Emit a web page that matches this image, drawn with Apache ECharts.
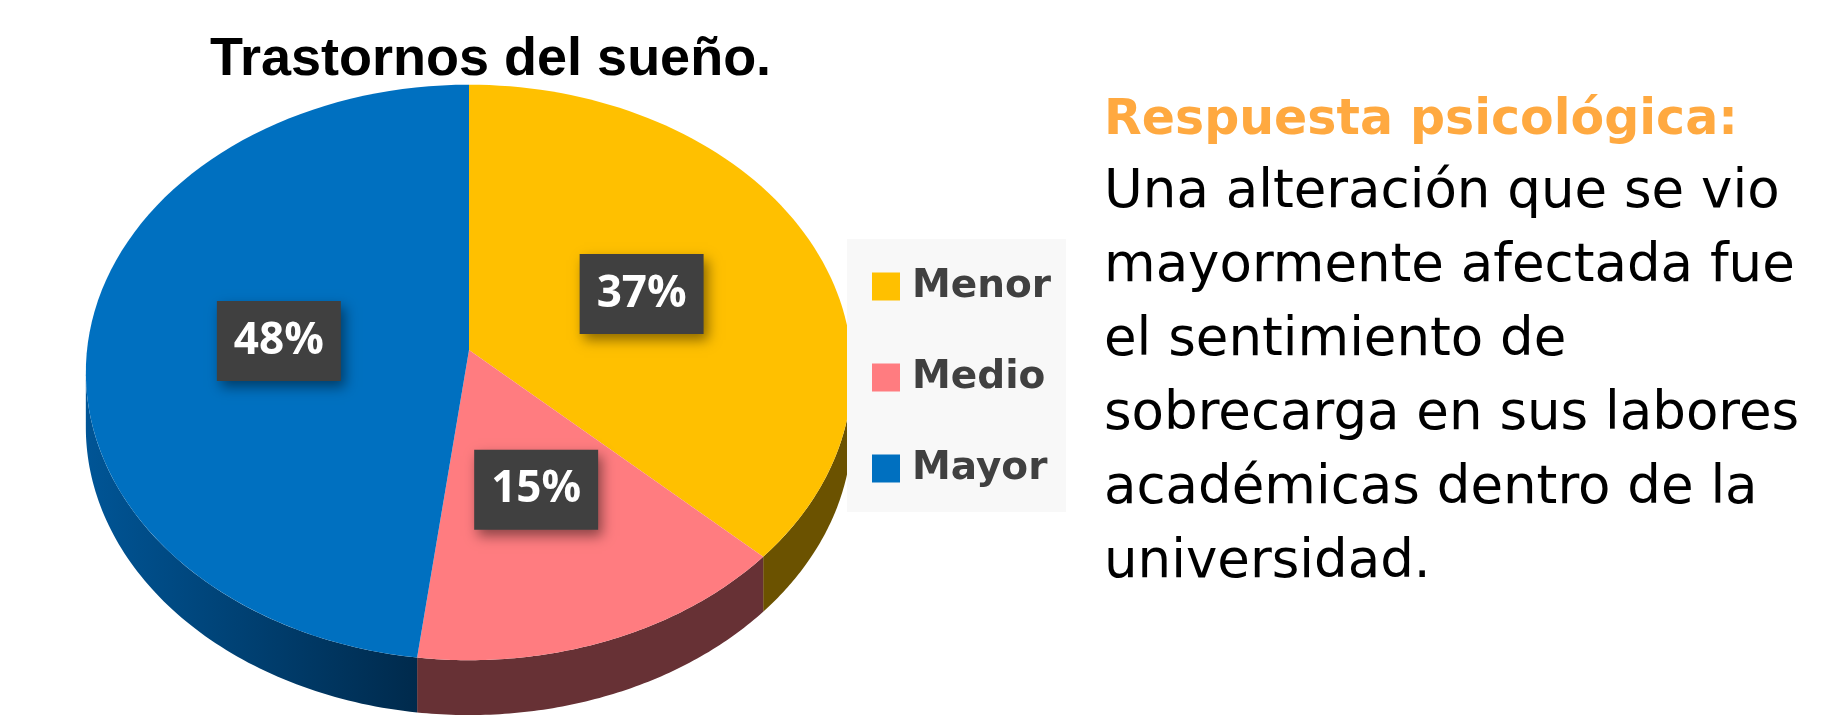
<!DOCTYPE html>
<html>
<head>
<meta charset="utf-8">
<script src="https://cdn.jsdelivr.net/npm/echarts@6/dist/echarts.min.js"></script>
<style>
  html, body { margin: 0; padding: 0; background: #fff; }
  #main { width: 1848px; height: 727px; }
</style>
</head>
<body>
<div id="main"></div>
<script>
// datos del gráfico
var categories = ['Menor', 'Medio', 'Mayor'];
var values = [37, 15, 48];
var topColors = ['#FFC000', '#FF7C80', '#0070C0'];
var sideColors = ['#6b5200', '#673135', '#00518f'];

var titleText = 'Trastornos del sueño.';
var noteHeader = 'Respuesta psicológica:';
var noteLines = [
  'Una alteración que se vio',
  'mayormente afectada fue',
  'el sentimiento de',
  'sobrecarga en sus labores',
  'académicas dentro de la',
  'universidad.'
];

// "tarta 3D": circulo inclinado con un poco de perspectiva
var persp = 0.078;   // lo lejano se ve mas chico
var depth = 0.192;   // grosor del canto (unidades del eje y)
var labelR = 0.5;

var total = values.reduce(function (a, b) { return a + b; }, 0);
var startAngles = [];
var acc = 0;
values.forEach(function (v) {
  startAngles.push(acc / total * Math.PI * 2);
  acc += v;
});

// angulo 0 = arriba, sentido horario
function proj(api, r, t, dy) {
  var X = r * Math.sin(t), Z = r * Math.cos(t);
  var w = 1 + persp * Z;
  return api.coord([X / w, Z / w - (dy || 0)]);
}

function renderSlice(params, api) {
  var i = params.seriesIndex;
  var a0 = startAngles[i];
  var a1 = a0 + values[i] / total * Math.PI * 2;
  var children = [];
  var steps = 80, k, t;

  // canto (parte delantera)
  var ts = Math.acos(-persp);
  var s = Math.max(a0, ts), e = Math.min(a1, Math.PI * 2 - ts);
  if (e > s) {
    var side = [];
    for (k = 0; k <= steps; k++) { t = s + (e - s) * k / steps; side.push(proj(api, 1, t)); }
    for (k = steps; k >= 0; k--) { t = s + (e - s) * k / steps; side.push(proj(api, 1, t, depth)); }
    var fill = sideColors[i];
    if (i === 2) {
      fill = {
        type: 'linear', x: 0, y: 0, x2: 1, y2: 0,
        colorStops: [{ offset: 0, color: '#005596' }, { offset: 1, color: '#002a4c' }]
      };
    }
    children.push({ type: 'polygon', shape: { points: side }, style: { fill: fill } });
  }

  // cara superior
  var pts = [api.coord([0, 0])];
  for (k = 0; k <= steps; k++) { t = a0 + (a1 - a0) * k / steps; pts.push(proj(api, 1, t)); }
  children.push({ type: 'polygon', shape: { points: pts }, style: { fill: topColors[i] } });

  // etiqueta
  var lp = proj(api, labelR, (a0 + a1) / 2);
  children.push({
    type: 'text',
    z2: 100,
    style: {
      text: values[i] + '%',
      x: lp[0], y: lp[1],
      align: 'center', verticalAlign: 'middle',
      fill: '#ffffff',
      fontFamily: 'Open Sans', fontWeight: 'bold', fontSize: 44,
      backgroundColor: '#404040',
      padding: [18, 17],
      shadowColor: 'rgba(0,0,0,0.45)', shadowBlur: 12, shadowOffsetX: 4, shadowOffsetY: 6
    }
  });
  return { type: 'group', children: children };
}

var myChart = echarts.init(document.getElementById('main'));
var option = {
  backgroundColor: '#ffffff',
  animation: false,
  title: [
    {
      text: titleText, left: 210, top: 30, padding: 0,
      textStyle: { fontFamily: 'Liberation Sans', fontWeight: 'bold', fontSize: 54, lineHeight: 60, color: '#000' }
    },
    {
      text: noteHeader, left: 1104, top: 91, padding: 0,
      textStyle: { fontFamily: 'DejaVu Sans', fontWeight: 'bold', fontSize: 49, lineHeight: 60, color: '#FFA940' }
    },
    {
      text: noteLines.join('\n'), left: 1104, top: 156, padding: 0,
      textStyle: { fontFamily: 'DejaVu Sans', fontWeight: 'normal', fontSize: 53, lineHeight: 74, color: '#000' }
    }
  ],
  legend: {
    orient: 'vertical',
    left: 847, top: 239,
    padding: [28, 15, 24, 25],
    backgroundColor: '#f8f8f8',
    itemWidth: 28, itemHeight: 28, itemGap: 52,
    icon: 'rect',
    selectedMode: false,
    data: categories,
    textStyle: { fontFamily: 'DejaVu Sans', fontWeight: 'bold', fontSize: 39, color: '#404040', lineHeight: 28, padding: [0, 0, 0, 7] }
  },
  // vertice de la tarta en (469, 350); 1 unidad x = 382 px, 1 unidad y = 286 px
  grid: { left: 87, top: 64, width: 764, height: 600.6 },
  xAxis: { type: 'value', min: -1, max: 1, show: false },
  yAxis: { type: 'value', min: -1.1, max: 1, show: false },
  series: categories.map(function (name, i) {
    return {
      name: name,
      type: 'custom',
      renderItem: renderSlice,
      itemStyle: { color: topColors[i] },
      data: [[0, values[i]]]
    };
  })
};
myChart.setOption(option);
</script>
</body>
</html>
